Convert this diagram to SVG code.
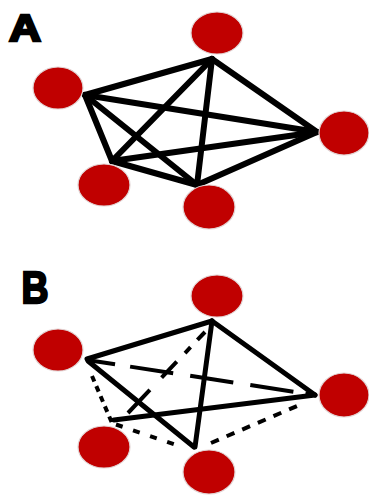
<svg xmlns="http://www.w3.org/2000/svg" width="369" height="496" viewBox="0 0 369 496">
<style>
.node{fill:#c00000;stroke:#e2d4d4;stroke-width:1.2}
.lbl{font-family:"Liberation Sans",Arial,sans-serif;font-weight:bold;fill:#000;stroke:#000;stroke-width:2.4;stroke-linejoin:miter}
.e{stroke:#000;fill:none}
.a{stroke-width:6;stroke-linecap:round}
.b{stroke-width:5;stroke-linecap:round}
.d{stroke-width:4;stroke-linecap:butt}
</style>
<rect width="369" height="496" fill="#fff"/>
<text class="lbl" x="9" y="40.5" font-size="37" textLength="32" lengthAdjust="spacingAndGlyphs">A</text>
<text class="lbl" x="21.5" y="302.8" font-size="45" textLength="27" lengthAdjust="spacingAndGlyphs">B</text>
<g id="connectors">
<g id="edges-A" class="e a">
<line x1="85" y1="95" x2="212" y2="59"/>
<line x1="212" y1="59" x2="317" y2="132"/>
<line x1="85" y1="95" x2="317" y2="132"/>
<line x1="85" y1="95" x2="112" y2="161"/>
<line x1="85" y1="95" x2="197" y2="185"/>
<line x1="212" y1="59" x2="112" y2="161"/>
<line x1="212" y1="59" x2="197" y2="185"/>
<line x1="112" y1="161" x2="317" y2="132"/>
<line x1="197" y1="185" x2="317" y2="132"/>
<line x1="112" y1="161" x2="197" y2="185"/>
</g>
<g id="edges-B" class="e">
<line class="b" x1="87" y1="359" x2="212" y2="321"/>
<line class="b" x1="212" y1="321" x2="315" y2="395"/>
<line class="b" x1="88" y1="361" x2="194" y2="447"/>
<line class="b" x1="212" y1="321" x2="195" y2="447"/>
<line class="b" x1="114" y1="420" x2="315" y2="395"/>
<line class="d" x1="87" y1="360" x2="315" y2="395" stroke-dasharray="28.4 15.2 43.6 17.2 43.6 17.2 43.6 12.2 12"/>
<line class="d" x1="205" y1="332" x2="128" y2="413" stroke-dasharray="11 10 8 12 22 17 34"/>
<line class="d" x1="92" y1="376" x2="112" y2="423" stroke-dasharray="6 5"/>
<line class="d" x1="116" y1="424.5" x2="175" y2="444.5" stroke-dasharray="7 11"/>
<line class="d" x1="211" y1="443" x2="297" y2="406" stroke-dasharray="8.5 8.5"/>
</g>
</g>
<g id="nodes-A">
<ellipse id="A-top" class="node" cx="217" cy="33" rx="26" ry="21"/>
<ellipse id="A-left" class="node" cx="58" cy="88" rx="25" ry="21"/>
<ellipse id="A-right" class="node" cx="344" cy="133" rx="25" ry="22"/>
<ellipse id="A-bottomleft" class="node" cx="104" cy="185" rx="26" ry="21"/>
<ellipse id="A-bottom" class="node" cx="209" cy="207" rx="26" ry="22"/>
</g>
<g id="nodes-B">
<ellipse id="B-top" class="node" cx="217" cy="296" rx="26" ry="21"/>
<ellipse id="B-left" class="node" cx="58" cy="350" rx="25" ry="21"/>
<ellipse id="B-right" class="node" cx="344" cy="395" rx="25" ry="22"/>
<ellipse id="B-bottomleft" class="node" cx="104" cy="447" rx="26" ry="21"/>
<ellipse id="B-bottom" class="node" cx="209" cy="472" rx="26" ry="22"/>
</g>
</svg>
